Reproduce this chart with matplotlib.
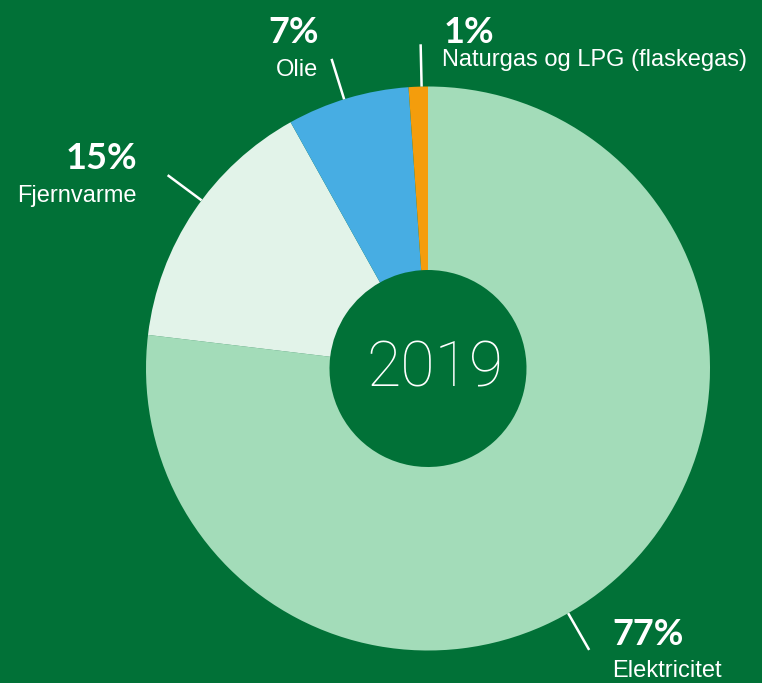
import matplotlib
matplotlib.use("Agg")
import matplotlib.pyplot as plt
import numpy as np

# ---- data ----
categories = ["Elektricitet", "Fjernvarme", "Olie", "Naturgas og LPG (flaskegas)"]
values = [76.9, 15.0, 7.0, 1.1]
pct_labels = ["77%", "15%", "7%", "1%"]
year_label = "2019"

# ---- style ----
BG = "#017137"
colors = ["#a3dcb9", "#e2f3e9", "#47ade3", "#f49d0c"]
W, H = 762, 683
CX, CY, R = 428, 368.5, 282.0
R_IN = 98.5

fig = plt.figure(figsize=(W / 100, H / 100), dpi=100, facecolor=BG)
ax = fig.add_axes([0, 0, 1, 1])
ax.set_facecolor(BG)

ax.pie(values, colors=colors, startangle=90, counterclock=False, radius=1.0,
       wedgeprops=dict(width=1 - R_IN / R, edgecolor="none", linewidth=0))

ax.set_xlim(-CX / R, (W - CX) / R)
ax.set_ylim(-(H - CY) / R, CY / R)
ax.set_aspect("equal", adjustable="box")
ax.axis("off")


def P(x, y):
    """pixel position (top-left origin) -> data coords"""
    return (x - CX) / R, (CY - y) / R


# leader lines (angles in degrees, standard orientation)
leader_angles = [-60.2, 143.4, 107.3, 91.3]
for a in leader_angles:
    t = np.deg2rad(a)
    ax.plot([1.0 * np.cos(t), 1.15 * np.cos(t)], [1.0 * np.sin(t), 1.15 * np.sin(t)],
            color="white", lw=1.8, solid_capstyle="butt", zorder=5)

pct_font = dict(family=["Lato", "DejaVu Sans"], weight="bold", size=26, color="white")
lab_font = dict(family=["Liberation Sans", "DejaVu Sans"], size=17, color="white")

# (x, y baseline, ha) for pct and name labels
pct_pos = [(612, 645, "left"), (137, 169, "right"), (319, 43, "right"), (444, 43, "left")]
lab_pos = [(612, 677, "left"), (137, 202, "right"), (318, 76, "right"), (442, 66, "left")]

for i in range(len(categories)):
    x, y, ha = pct_pos[i]
    ax.text(*P(x, y), pct_labels[i], ha=ha, va="baseline", **pct_font)
    x, y, ha = lab_pos[i]
    ax.text(*P(x, y), categories[i], ha=ha, va="baseline", **lab_font)

ax.text(*P(434.5, 386), year_label, ha="center", va="baseline",
        family=["Roboto", "DejaVu Sans"], weight="light", size=45, color="white")

fig.savefig("out.png", dpi=100, facecolor=BG)
